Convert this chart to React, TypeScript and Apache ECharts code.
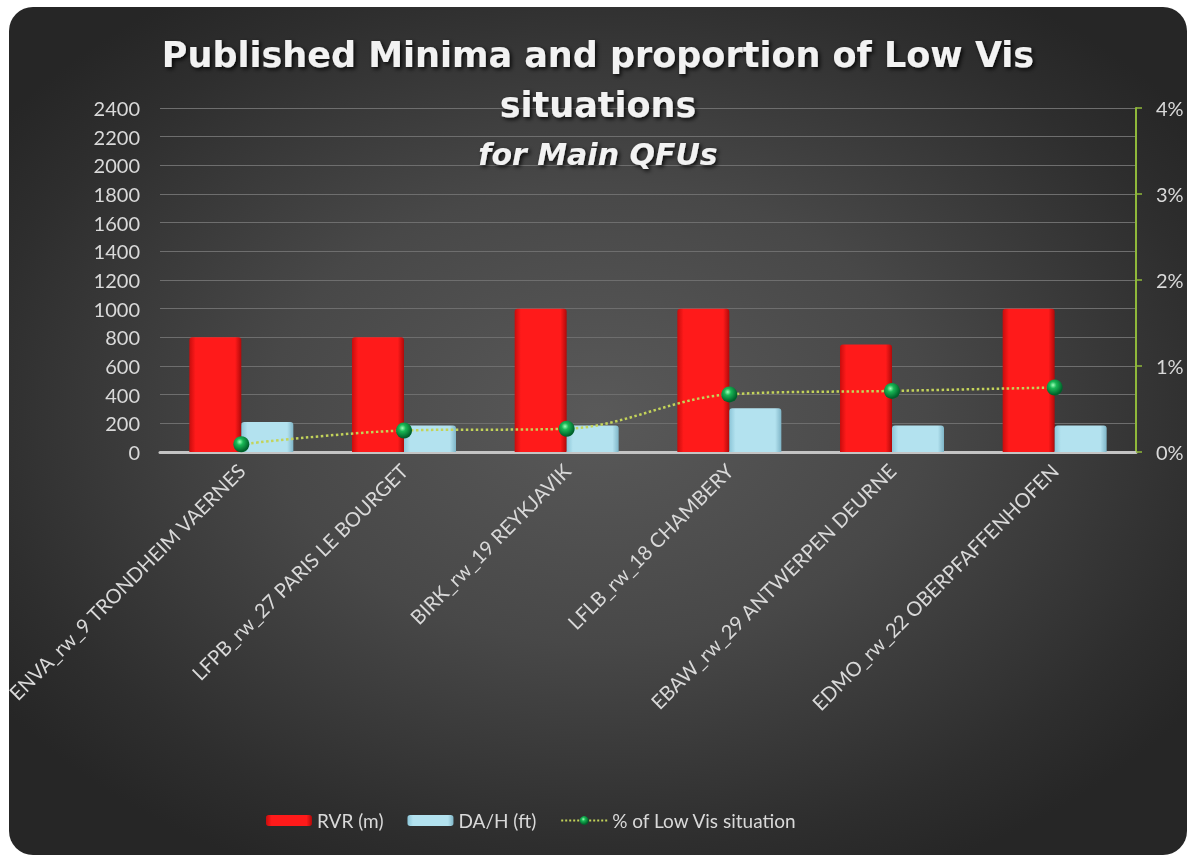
import React, { useEffect, useRef } from "react";
import * as echarts from "echarts";

const categories = [
  "ENVA_rw_9 TRONDHEIM VAERNES",
  "LFPB_rw_27 PARIS LE BOURGET",
  "BIRK_rw_19 REYKJAVIK",
  "LFLB_rw_18 CHAMBERY",
  "EBAW_rw_29 ANTWERPEN DEURNE",
  "EDMO_rw_22 OBERPFAFFENHOFEN",
];
const rvr = [800, 800, 1000, 1000, 750, 1000];
const dah = [210, 185, 185, 305, 185, 185];
const lowVisPct = [0.0009, 0.0025, 0.0027, 0.0067, 0.0071, 0.0075];

const titleText = "Published Minima and proportion of Low Vis\nsituations";
const subtitleText = "for Main QFUs";

const FONT = "Lato, 'Open Sans', sans-serif";
const TITLE_FONT = "'DejaVu Sans', 'Open Sans', sans-serif";
const LABEL = "#d9d9d9";

export default function App() {
  const ref = useRef<HTMLDivElement>(null);
  useEffect(() => {
    if (!ref.current) return;
    const chart = echarts.init(ref.current, undefined, { renderer: "svg" });
    const redGrad = new echarts.graphic.LinearGradient(0, 0, 1, 0, [
      { offset: 0, color: "#c80d0d" },
      { offset: 0.12, color: "#ff1a1a" },
      { offset: 0.88, color: "#ff1a1a" },
      { offset: 1, color: "#b00a0a" },
    ]);
    const blueGrad = new echarts.graphic.LinearGradient(0, 0, 1, 0, [
      { offset: 0, color: "#8cc6d8" },
      { offset: 0.12, color: "#b3e2ef" },
      { offset: 0.88, color: "#b3e2ef" },
      { offset: 1, color: "#7fb5c7" },
    ]);
    const dotGrad = new echarts.graphic.RadialGradient(0.4, 0.35, 0.6, [
      { offset: 0, color: "#9dffb8" },
      { offset: 0.35, color: "#19b855" },
      { offset: 1, color: "#00612a" },
    ]);
    const shadow = {
      textShadowColor: "rgba(0,0,0,0.85)",
      textShadowBlur: 4,
      textShadowOffsetX: 2,
      textShadowOffsetY: 2,
    };
    chart.setOption({
      animation: false,
      backgroundColor: "transparent",
      textStyle: { fontFamily: FONT },
      title: {
        text: titleText,
        subtext: subtitleText,
        left: "center",
        top: 18,
        itemGap: 6,
        textStyle: {
          color: "#f2f2f2",
          fontSize: 35,
          fontWeight: "bold",
          lineHeight: 50,
          fontFamily: TITLE_FONT,
          ...shadow,
        },
        subtextStyle: {
          color: "#f2f2f2",
          fontSize: 30,
          fontWeight: "bold",
          fontStyle: "italic",
          lineHeight: 36,
          fontFamily: TITLE_FONT,
          ...shadow,
        },
      },
      legend: {
        bottom: 20,
        left: 252,
        itemWidth: 46,
        itemHeight: 11,
        itemGap: 24,
        textStyle: { color: LABEL, fontSize: 19, fontFamily: FONT },
        data: [
          { name: "RVR (m)" },
          { name: "DA/H (ft)" },
          { name: "% of Low Vis situation" },
        ],
      },
      grid: { left: 151, right: 51, top: 101, bottom: 403, outerBoundsMode: "none", containLabel: false },
      xAxis: {
        type: "category",
        data: categories,
        axisLine: { show: true, lineStyle: { color: "#c4c4c4", width: 3 } },
        axisTick: { show: false },
        axisLabel: {
          rotate: 45,
          interval: 0,
          margin: 15,
          color: LABEL,
          fontSize: 20,
          fontFamily: FONT,
        },
      },
      yAxis: [
        {
          type: "value",
          min: 0,
          max: 2400,
          interval: 200,
          axisLine: { show: false },
          axisTick: { show: false },
          axisLabel: {
            color: LABEL,
            fontSize: 20,
            margin: 20,
            fontFamily: FONT,
            formatter: (v: number) => String(v),
          },
          splitLine: { lineStyle: { color: "#6e6e6e", width: 1 } },
        },
        {
          type: "value",
          min: 0,
          max: 0.04,
          interval: 0.01,
          position: "right",
          axisLine: { show: true, lineStyle: { color: "#8fb83a", width: 2 } },
          axisTick: { show: true, length: 6, lineStyle: { color: "#8fb83a", width: 1.5 } },
          axisLabel: {
            color: LABEL,
            fontSize: 20,
            margin: 20,
            fontFamily: FONT,
            formatter: (v: number) => Math.round(v * 100) + "%",
          },
          splitLine: { show: false },
        },
      ],
      series: [
        {
          name: "RVR (m)",
          type: "bar",
          data: rvr,
          barWidth: 52,
          barGap: "0%",
          itemStyle: { color: redGrad, borderRadius: [3, 3, 0, 0] },
        },
        {
          name: "DA/H (ft)",
          type: "bar",
          data: dah,
          barWidth: 52,
          barGap: "0%",
          itemStyle: { color: blueGrad, borderRadius: [3, 3, 0, 0] },
        },
        {
          name: "% of Low Vis situation",
          type: "line",
          yAxisIndex: 1,
          data: lowVisPct,
          smooth: 0.35,
          symbol: "circle",
          symbolSize: 16,
          itemStyle: { color: dotGrad, borderWidth: 0 },
          lineStyle: { color: "#c3d35a", width: 2.5, type: "dotted" },
          z: 5,
        },
      ],
    });
    return () => chart.dispose();
  }, []);
  return (
    <div
      style={{
        position: "fixed",
        left: 9,
        top: 7,
        width: 1178,
        height: 848,
        borderRadius: 24,
        overflow: "hidden",
        background:
          "radial-gradient(ellipse 62% 60% at 50% 48%, #595959 0%, #484848 45%, #2e2e2e 85%, #262626 100%)",
      }}
    >
      <div ref={ref} style={{ width: 1178, height: 848 }} />
    </div>
  );
}
